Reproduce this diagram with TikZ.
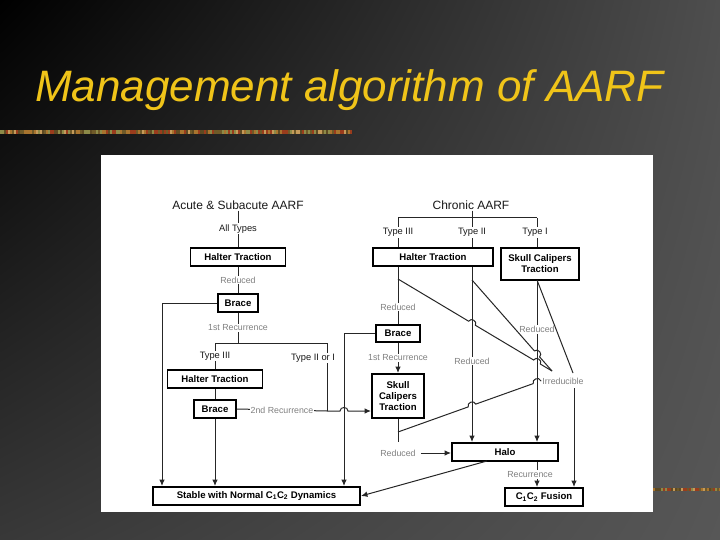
\documentclass[tikz,border=0pt]{standalone}
\usepackage{fontspec}
\setmainfont{Liberation Sans}
\usetikzlibrary{arrows.meta,calc,shadings}
\definecolor{titley}{HTML}{F0C419}
\definecolor{linegray}{HTML}{262626}
\definecolor{labgray}{HTML}{808080}
\definecolor{bgTR}{HTML}{4E4E4E}
\definecolor{bgBL}{HTML}{383838}
\definecolor{bgBR}{HTML}{575757}
\definecolor{bar0}{HTML}{A8742E}
\definecolor{bar1}{HTML}{6F5A28}
\definecolor{bar2}{HTML}{9A3C1C}
\definecolor{bar3}{HTML}{8C8A48}
\definecolor{bar4}{HTML}{C49A5A}
\definecolor{bar5}{HTML}{5E4A22}
\newcommand\bxf{\bfseries\fontsize{9.6}{11}\selectfont}
\newcommand\lbf{\fontsize{8.8}{10}\selectfont}
\newcommand\tyf{\fontsize{9.3}{10}\selectfont}
\newcommand\hdf{\fontsize{12}{14}\selectfont}
\begin{document}
\begin{tikzpicture}[x=1pt,y=-1pt,
  box/.style={draw=black, line width=1.9pt, fill=white, inner sep=0pt, font=\bxf, align=center},
  conn/.style={draw=linegray, line width=1pt},
  arr/.style={conn, -{Latex[length=6.5pt,width=5.5pt]}},
  glab/.style={fill=white, text=labgray, font=\lbf, inner sep=1pt},
  tlab/.style={fill=white, text=black!90, font=\tyf, inner sep=1pt},
  hdr/.style={text=black!90, font=\hdf, inner sep=1pt}]
\useasboundingbox (0,0) rectangle (720,540);
\shade[upper left=black, upper right=bgTR, lower left=bgBL, lower right=bgBR] (0,0) rectangle (720,540);
% decorative bars
\pgfmathsetseed{11}
\foreach \i in {0,...,175} {
  \pgfmathrandominteger{\k}{0}{5}
  \fill[bar\k] (\i*2,130) rectangle ++(2,4);
}
\foreach \i in {0,...,33} {
  \pgfmathrandominteger{\k}{0}{5}
  \fill[bar\k] (653+\i*2,488) rectangle ++(2,3);
}
% title
\node[anchor=base west, text=titley, font=\itshape\fontsize{44}{50}\selectfont, inner sep=0pt] (title) at (35,102) {Management algorithm of AARF};
% panel
\fill[white] (101,155) rectangle (653,512);

% headers
\node[hdr] (acute) at (238,205) {Acute \& Subacute AARF};
\node[hdr] (chronic) at (471,205) {Chronic AARF};

% boxes
\node[box, minimum width=95pt, minimum height=18pt] (ht1) at (238,257) {Halter Traction};
\node[box, minimum width=40pt, minimum height=18pt] (br1) at (238,303) {Brace};
\node[box, minimum width=95pt, minimum height=18pt] (ht2) at (215,379) {Halter Traction};
\node[box, minimum width=42pt, minimum height=18pt] (br2) at (215,409) {Brace};
\node[box, minimum width=207pt, minimum height=18pt] (st) at (256.5,496) {Stable with Normal C\textsubscript{1}C\textsubscript{2} Dynamics};
\node[box, minimum width=120pt, minimum height=18pt] (ht3) at (433,257) {Halter Traction};
\node[box, minimum width=78pt, minimum height=32pt] (sk1) at (540,264) {Skull Calipers\\Traction};
\node[box, minimum width=44pt, minimum height=17pt] (br3) at (398,333.5) {Brace};
\node[box, minimum width=52pt, minimum height=44pt] (sk2) at (398,396) {Skull\\Calipers\\Traction};
\node[box, minimum width=106pt, minimum height=18pt] (halo) at (505,452) {Halo};
\node[box, minimum width=78pt, minimum height=18pt] (fu) at (544,497) {C\textsubscript{1}C\textsubscript{2} Fusion};

% ---- left tree
\draw[conn] (acute.south) -- node[tlab]{All Types} (ht1.north);
\draw[conn] (ht1.south) -- node[glab]{Reduced} (br1.north);
\coordinate (c1) at (162,303);
\draw[arr] (br1.west) -- (c1) -- (c1 |- st.north);
\coordinate (b1) at (238,343);
\coordinate (b1l) at (215,343);
\coordinate (b1r) at (327,343);
\coordinate (j2) at (327,411);
\draw[conn] (br1.south) -- node[glab]{1st Recurrence} (b1);
\draw[conn] (b1l) -- (b1r);
\draw[conn] (b1l) -- node[tlab]{Type III} (ht2.north);
\draw[conn] (b1r) -- node[tlab, pos=0.22, xshift=-14pt]{Type II or I} (j2);
\draw[conn] (ht2.south) -- (br2.north);
\draw[arr] (br2.south) -- (br2.south |- st.north);
\draw[arr] (br2.east) -- node[glab]{2nd Recurrence} (j2) -- (340,411)
   to[out=90,in=90,looseness=1.5] (348,411) -- (sk2.west |- j2);

% ---- chronic tree
\coordinate (cb) at (472,218);
\coordinate (cbl) at (398,218);
\coordinate (cbr) at (537,218);
\draw[conn] (chronic.south -| cb) -- (cb);
\draw[conn] (cbl) -- (cbr);
\draw[conn] (cbl) -- node[tlab]{Type III} (cbl |- ht3.north);
\draw[conn] (cb) -- node[tlab]{Type II} (cb |- ht3.north);
\draw[conn] (cbr) -- node[tlab, xshift=-2pt]{Type I} (cbr |- sk1.north);
\draw[conn] (cbl |- ht3.south) -- node[glab, pos=0.7]{Reduced} (br3.north);
\draw[arr] (cb |- ht3.south) -- node[glab, pos=0.537]{Reduced} (cb |- halo.north);
\draw[arr] (cbr |- sk1.south) -- node[glab, pos=0.30]{Reduced} (cbr |- halo.north);
\coordinate (c3) at (344,333.5);
\draw[arr] (br3.west) -- (c3) -- (c3 |- st.north);
\draw[arr] (br3.south) -- node[glab]{1st Recurrence} (sk2.north);
\coordinate (s2b) at (398,442);
\draw[conn] (sk2.south) -- (s2b);

% irreducible
\node[glab, fill=none] (irr) at (563,381) {Irreducible};
\coordinate (irrA) at (552,371);
\coordinate (irrB) at (573,373);
\coordinate (irrC) at (574,388);
\coordinate (l1s) at (398,279);
\coordinate (l2s) at (472,280);
\coordinate (l3s) at (537,280);
\coordinate (l4s) at (398,432);
% L1
\draw[conn] (l1s) -- (468.6,321.2) to[out=59.1,in=59.1,looseness=1.5] (475.4,325.3)
   -- (533.6,360.0) to[out=59.1,in=59.1,looseness=1.5] (540.4,364.1) -- (irrA);
% L2
\draw[conn] (l2s) -- (534.4,350.9) to[out=41.3,in=41.3,looseness=1.5] (539.6,356.9) -- (irrA);
% L3
\draw[conn] (l3s) -- (irrB);
% L4
\draw[conn] (l4s) -- (468.2,406.9) to[out=109.7,in=109.7,looseness=1.5] (475.8,404.1)
   -- (533.2,383.6) to[out=109.7,in=109.7,looseness=1.5] (540.8,380.8) -- (irr.west);
\draw[arr] (irrC) -- (irrC |- fu.north);

% bottom right
\node[glab] (red4) at (398,453) {Reduced};
\draw[arr] ([xshift=4pt]red4.east) -- (red4.east -| halo.west);
\draw[arr] (cbr |- halo.south) -- node[glab, xshift=-7pt]{Recurrence} (cbr |- fu.north);
\coordinate (hb) at (487,461);
\draw[arr] (hb) -- (st.east);
\end{tikzpicture}
\end{document}
